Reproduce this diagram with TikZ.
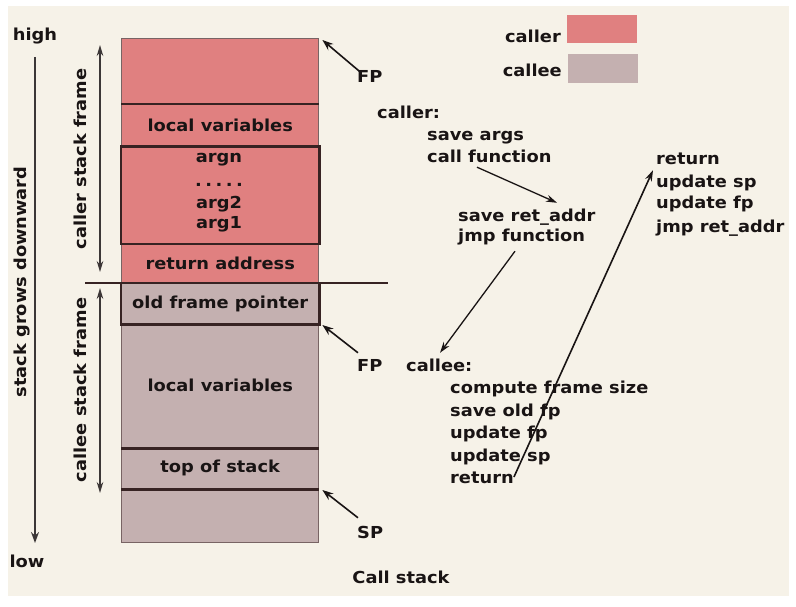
\documentclass[tikz,border=0pt]{standalone}
\usepackage{fontspec}
\setmainfont{DejaVu Sans}[FakeStretch=1.08]
\usetikzlibrary{arrows.meta}
\definecolor{cream}{RGB}{246,242,232}
\definecolor{callerc}{RGB}{224,128,128}
\definecolor{calleec}{RGB}{196,176,176}
\definecolor{edgec}{RGB}{120,100,100}
\definecolor{darkc}{RGB}{55,35,35}
\definecolor{ink}{RGB}{25,20,20}
\begin{document}
\begin{tikzpicture}[x=1pt,y=-1pt,
  txt/.style={font=\bfseries\fontsize{16.5}{20}\selectfont, text=ink, inner sep=0pt},
  lft/.style={txt, anchor=west, text height=12pt, text depth=0pt},
  ctr/.style={txt, text height=12pt, text depth=0pt},
  cellr/.style={txt, fill=callerc, draw=edgec, line width=1.4pt, minimum width=197pt, anchor=north west},
  celle/.style={txt, fill=calleec, draw=edgec, line width=1.4pt, minimum width=197pt, anchor=north west},
  sepline/.style={draw=darkc, line width=2.2pt},
  ptr/.style={draw=ink, line width=1.6pt, -{Stealth[length=11pt,width=8pt]}},
  flow/.style={draw=ink, line width=1.3pt, -{Stealth[length=11pt,width=7pt]}},
  span/.style={draw=ink!85, line width=1.3pt, {Stealth[length=11pt,width=6.5pt]}-{Stealth[length=11pt,width=6.5pt]}},
  legbox/.style={minimum width=70pt, minimum height=28pt, inner sep=0pt}
]
\useasboundingbox (0,0) rectangle (796,607);
\fill[white] (0,0) rectangle (796,607);
\fill[cream] (8,6) rectangle (789,596);

% stack cells
\node[cellr, minimum height=65pt] (c0) at (121,38) {};
\node[cellr, minimum height=43pt] (c1) at (121,103) {local variables};
\node[cellr, minimum height=97pt] (c2) at (121,146) {};
\node[cellr, minimum height=40pt] (c3) at (121,243) {return address};
\node[celle, minimum height=40pt] (c4) at (121,283) {old frame pointer};
\node[celle, minimum height=124pt] (c5) at (121,323) {local variables};
\node[celle, minimum height=41pt] (c6) at (121,447) {top of stack};
\node[celle, minimum height=54pt] (c7) at (121,488) {};

\node[ctr] (a1) at (219,157) {argn};
\node[ctr] (a2) at (219,181) {.\hspace{3.5pt}.\hspace{3.5pt}.\hspace{3.5pt}.\hspace{3.5pt}.};
\node[ctr] (a3) at (219,202) {arg2};
\node[ctr] (a4) at (219,223) {arg1};

\draw[sepline] (c0.south west) -- (c0.south east);
\draw[sepline] (c1.south west) -- (c1.south east);
\draw[sepline] (c5.south west) -- (c5.south east);
\draw[sepline] (c6.south west) -- (c6.south east);
\draw[sepline] (c2.north west) rectangle (c2.south east);
\draw[sepline] (c4.north west) rectangle (c4.south east);
\coordinate (s1) at (85,283);
\coordinate (s2) at (388,283);
\draw[sepline, line width=2.6pt] (s1) -- (s2);

% left axis
\node[txt] (high) at (35,36) {high};
\node[txt] (low) at (27,561) {low};
\coordinate (ax1) at (35,57);
\coordinate (ax2) at (35,543);
\draw[ptr, line width=1.3pt, draw=ink!85] (ax1) -- (ax2);
\node[txt, rotate=90] (sgd) at (22,282) {stack grows downward};

\node[txt, rotate=90] (csf) at (80,159) {caller stack frame};
\node[txt, rotate=90] (esf) at (80,390) {callee stack frame};
\coordinate (ca1) at (100,45);
\coordinate (ca2) at (100,272);
\coordinate (ea1) at (100,288);
\coordinate (ea2) at (100,493);
\draw[span] (ca1) -- (ca2);
\draw[span] (ea1) -- (ea2);

% pointers
\node[lft] (fp1) at (357,77) {FP};
\node[lft] (fp2) at (357,365) {FP};
\node[lft] (sp) at (357,532) {SP};
\draw[ptr] ([xshift=3pt,yshift=-1pt]fp1.north west) -- ([shift={(3pt,-2pt)}]c0.north east);
\draw[ptr] ([xshift=1pt,yshift=6pt]fp2.north west) -- ([shift={(3pt,-2pt)}]c5.north east);
\draw[ptr] ([xshift=1pt,yshift=8pt]sp.north west) -- ([shift={(3pt,-2pt)}]c7.north east);

\node[txt] (cs) at (401,577) {Call stack};

% legend
\node[legbox, fill=callerc] (lg1) at (602,29) {};
\node[legbox, fill=calleec, minimum height=29pt] (lg2) at (603,68.5) {};
\node[txt, anchor=base east] (lt1) at (561,43) {caller};
\node[txt, anchor=base east] (lt2) at (562,77) {callee};

% caller steps
\node[lft] (cl) at (377,113) {caller:};
\node[lft] (sa) at (427,135) {save args};
\node[lft] (cf) at (427,157) {call function};
\node[lft] (sra) at (458,216) {save ret\_addr};
\node[lft] (jf) at (458,235) {jmp function};

% callee steps
\node[lft] (ce) at (406,365) {callee:};
\node[lft] (cfs) at (450,387) {compute frame size};
\node[lft] (sof) at (450,410) {save old fp};
\node[lft] (ufp) at (450,432) {update fp};
\node[lft] (usp) at (450,455) {update sp};
\node[lft] (ret1) at (450,477) {return};

% return steps
\node[lft] (rret) at (656,159) {return};
\node[lft] (rsp) at (656,182) {update sp};
\node[lft] (rfp) at (656,203) {update fp};
\node[lft] (rjmp) at (656,227) {jmp ret\_addr};

\draw[flow] ([xshift=50pt,yshift=-4pt]cf.south west) -- ([xshift=99pt,yshift=7pt]sra.north west);
\draw[flow] ([xshift=57pt,yshift=-10pt]jf.south west) -- ([xshift=34pt,yshift=6pt]ce.north west);
\draw[flow, line width=1.6pt] (ret1.east) -- ([xshift=-3pt,yshift=-5pt]rret.south west);
\end{tikzpicture}
\end{document}
